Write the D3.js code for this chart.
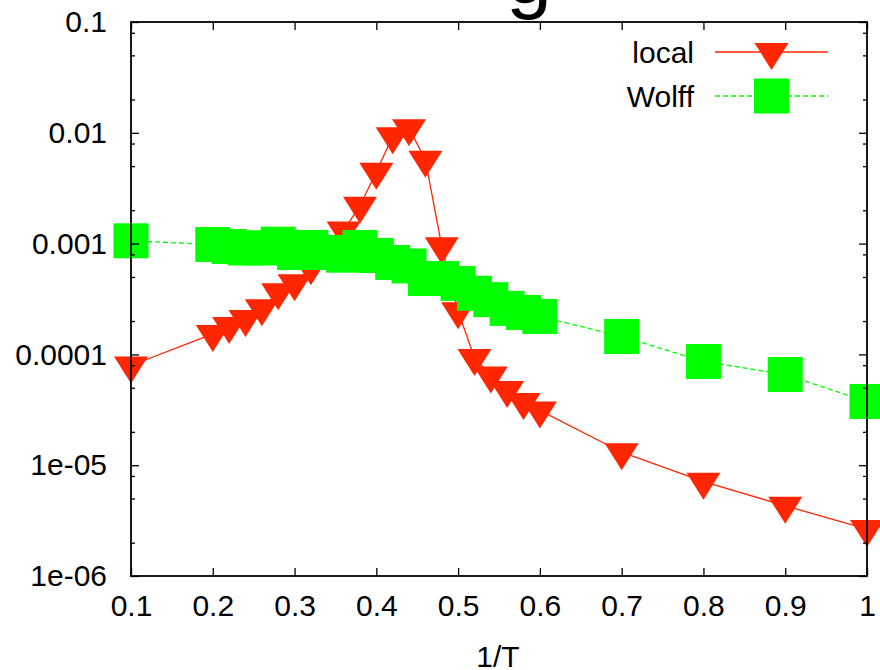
<!DOCTYPE html>
<html>
<head>
<meta charset="utf-8">
<script src="https://cdn.jsdelivr.net/npm/d3@7"></script>
<style>
  html, body { margin: 0; padding: 0; background: #fff; }
  svg { display: block; font-family: "Liberation Sans", Arial, Helvetica, sans-serif; }
</style>
</head>
<body>
<script>
// Data ------------------------------------------------
const localX = [0.1, 0.2, 0.22, 0.24, 0.26, 0.28, 0.3, 0.32, 0.34, 0.36, 0.38, 0.4, 0.42, 0.44, 0.46, 0.48,
                0.5, 0.52, 0.54, 0.56, 0.58, 0.6, 0.7, 0.8, 0.9, 1.0];
const localY = [7.94e-5, 1.53e-4, 1.80e-4, 2.09e-4, 2.61e-4, 3.64e-4, 4.39e-4, 6.12e-4, 8.9e-4, 1.31e-3,
                2.20e-3, 4.45e-3, 9.3e-3, 1.10e-2, 5.7e-3, 9.46e-4, 2.45e-4, 9.3e-5, 6.45e-5, 4.78e-5,
                3.71e-5, 3.12e-5, 1.31e-5, 7.10e-6, 4.30e-6, 2.65e-6];

const wolffX = [0.1, 0.2, 0.22, 0.24, 0.26, 0.28, 0.3, 0.32, 0.34, 0.36, 0.38, 0.4, 0.42, 0.44, 0.46, 0.48,
                0.5, 0.52, 0.54, 0.56, 0.58, 0.6, 0.7, 0.8, 0.9, 1.0];
const wolffY = [1.06e-3, 9.81e-4, 9.41e-4, 9.13e-4, 9.13e-4, 9.88e-4, 8.31e-4, 9.22e-4, 8.31e-4, 7.86e-4,
                9.22e-4, 7.81e-4, 6.75e-4, 6.28e-4, 4.84e-4, 4.84e-4, 4.36e-4, 3.56e-4, 3.12e-4, 2.60e-4,
                2.39e-4, 2.20e-4, 1.45e-4, 8.63e-5, 6.58e-5, 3.76e-5];

const xTicks = [0.1, 0.2, 0.3, 0.4, 0.5, 0.6, 0.7, 0.8, 0.9, 1.0];
const xTickLabels = ['0.1', '0.2', '0.3', '0.4', '0.5', '0.6', '0.7', '0.8', '0.9', '1'];
const yTicks = [1e-6, 1e-5, 1e-4, 1e-3, 1e-2, 1e-1];
const yTickLabels = ['1e-06', '1e-05', '0.0001', '0.001', '0.01', '0.1'];
const yMinorSteps = [2, 5, 8];

const seriesNames = ['local', 'Wolff'];
const xLabel = '1/T';
const titleText = 'g';

// Layout ----------------------------------------------
const width = 880, height = 670;
const plot = {left: 131, right: 867, top: 22, bottom: 576};
const red = '#ff2600', green = '#00ff00';
const fontSize = 30;

const svg = d3.select('body').append('svg')
  .attr('width', width)
  .attr('height', height);

// Scales
const x = d3.scaleLinear().domain([0.1, 1]).range([plot.left, plot.right]);
const y = d3.scaleLog().domain([1e-6, 0.1]).range([plot.bottom, plot.top]);

// minor ticks for log axis
const yMinor = [];
yTicks.slice(0, -1).forEach(d => yMinorSteps.forEach(m => yMinor.push(d * m)));

// title (mostly cut off above the picture)
svg.append('text')
  .attr('x', 529).attr('y', 3)
  .attr('text-anchor', 'middle')
  .attr('font-size', 82)
  .text(titleText);

// Series ----------------------------------------------
const localData = localX.map((d, i) => [d, localY[i]]);
const wolffData = wolffX.map((d, i) => [d, wolffY[i]]);

const line = d3.line().x(d => x(d[0])).y(d => y(d[1]));

// triangle (pointing down), centroid on the data point
const tri = (cx, cy) => `M${cx - 17},${cy - 9}L${cx + 17},${cy - 9}L${cx},${cy + 18}Z`;
const sq = 35;

// local
svg.append('path')
  .datum(localData)
  .attr('fill', 'none')
  .attr('stroke', red)
  .attr('stroke-width', 1.3)
  .attr('d', line);

svg.append('g').selectAll('path')
  .data(localData)
  .enter()
  .append('path')
  .attr('fill', red)
  .attr('d', d => tri(x(d[0]), y(d[1])));

// Wolff
svg.append('path')
  .datum(wolffData)
  .attr('fill', 'none')
  .attr('stroke', green)
  .attr('stroke-width', 1.3)
  .attr('stroke-dasharray', '5,3')
  .attr('d', line);

svg.append('g').selectAll('rect')
  .data(wolffData)
  .enter()
  .append('rect')
  .attr('fill', green)
  .attr('x', d => x(d[0]) - sq / 2)
  .attr('y', d => y(d[1]) - sq / 2)
  .attr('width', sq)
  .attr('height', sq);

// Axes (ticks point inward, mirrored) ------------------
const styleAxis = g => {
  g.select('.domain').remove();
  g.selectAll('line').attr('stroke', '#000').attr('stroke-width', 1.3);
  g.selectAll('text').attr('font-size', fontSize).attr('fill', '#000');
};

svg.append('g')
  .attr('transform', `translate(0,${plot.bottom})`)
  .call(d3.axisBottom(x).tickValues(xTicks)
        .tickFormat((d, i) => xTickLabels[i]).tickSize(-8).tickPadding(19))
  .call(styleAxis);

svg.append('g')
  .attr('transform', `translate(0,${plot.top})`)
  .call(d3.axisTop(x).tickValues(xTicks).tickFormat('').tickSize(-8))
  .call(styleAxis);

svg.append('g')
  .attr('transform', `translate(${plot.left},0)`)
  .call(d3.axisLeft(y).tickValues(yTicks)
        .tickFormat((d, i) => yTickLabels[i]).tickSize(-8).tickPadding(24))
  .call(styleAxis);

svg.append('g')
  .attr('transform', `translate(${plot.left},0)`)
  .call(d3.axisLeft(y).tickValues(yMinor).tickFormat('').tickSize(-4))
  .call(styleAxis);

svg.append('g')
  .attr('transform', `translate(${plot.right},0)`)
  .call(d3.axisRight(y).tickValues(yTicks).tickFormat('').tickSize(-8))
  .call(styleAxis);

svg.append('g')
  .attr('transform', `translate(${plot.right},0)`)
  .call(d3.axisRight(y).tickValues(yMinor).tickFormat('').tickSize(-4))
  .call(styleAxis);

// border
svg.append('rect')
  .attr('x', plot.left).attr('y', plot.top)
  .attr('width', plot.right - plot.left)
  .attr('height', plot.bottom - plot.top)
  .attr('fill', 'none')
  .attr('stroke', '#000')
  .attr('stroke-width', 1.8);

// x label
svg.append('text')
  .attr('x', 498).attr('y', 667)
  .attr('text-anchor', 'middle')
  .attr('font-size', fontSize)
  .text(xLabel);

// Legend ----------------------------------------------
const legend = svg.append('g');
const legendY = [52, 96];

legend.selectAll('text')
  .data(seriesNames)
  .enter()
  .append('text')
  .attr('x', 694)
  .attr('y', (d, i) => legendY[i])
  .attr('dy', '0.35em')
  .attr('text-anchor', 'end')
  .attr('font-size', fontSize)
  .text(d => d);

legend.append('line')
  .attr('x1', 715).attr('x2', 828)
  .attr('y1', legendY[0]).attr('y2', legendY[0])
  .attr('stroke', red).attr('stroke-width', 1.3);
legend.append('path')
  .attr('fill', red)
  .attr('d', tri(771.5, legendY[0]));

legend.append('line')
  .attr('x1', 715).attr('x2', 828)
  .attr('y1', legendY[1]).attr('y2', legendY[1])
  .attr('stroke', green).attr('stroke-width', 1.3)
  .attr('stroke-dasharray', '5,3');
legend.append('rect')
  .attr('fill', green)
  .attr('x', 771.5 - sq / 2).attr('y', legendY[1] - sq / 2)
  .attr('width', sq).attr('height', sq);
</script>
</body>
</html>
